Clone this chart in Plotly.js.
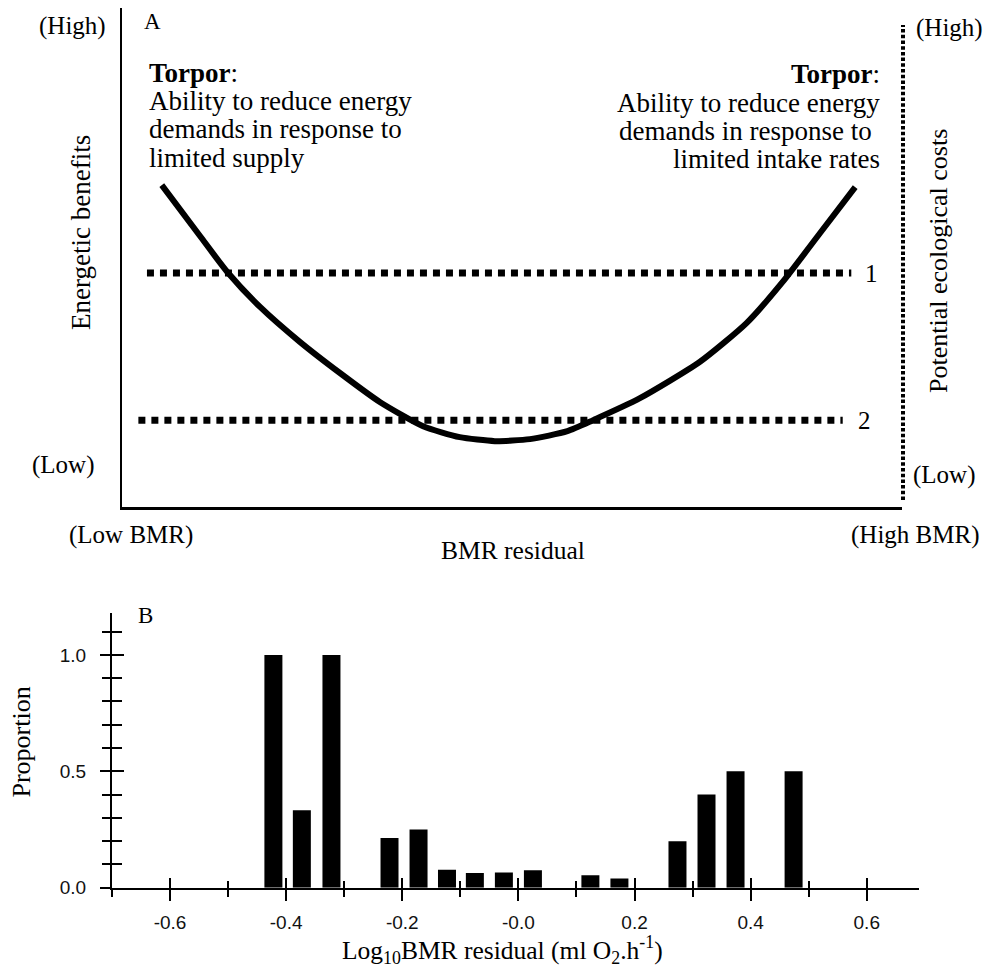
<!DOCTYPE html>
<html>
<head>
<meta charset="utf-8">
<script src="https://cdn.plot.ly/plotly-3.0.1.min.js"></script>
<style>html,body{margin:0;padding:0;background:#fff;}#chart{width:986px;height:980px;}</style>
</head>
<body>
<div id="chart"></div>
<script>
// ---------- Panel A (conceptual, 0-100 scales) ----------
const curveX = [5.1, 10.0, 13.5, 17.7, 22.8, 27.9, 33.1, 38.6, 43.3, 47.8, 52.3, 57.1, 60.4, 66.4, 74.1, 80.1, 84.7, 89.5, 94.0];
const curveY = [64.5, 54.3, 47.1, 40.1, 33.1, 26.9, 21.0, 16.2, 14.0, 13.2, 13.6, 15.2, 17.4, 21.8, 29.1, 36.9, 45.1, 54.9, 64.1];
const level1X = [3.2, 93.5];
const level1Y = [46.9, 46.9];
const level2X = [2.1, 92.4];
const level2Y = [17.4, 17.4];

// ---------- Panel B (histogram of proportions) ----------
const binCenters = [-0.422, -0.373, -0.322, -0.222, -0.172, -0.123, -0.075, -0.025, 0.025, 0.124, 0.174, 0.274, 0.324, 0.374, 0.474];
const proportions = [1.0, 0.333, 1.0, 0.214, 0.25, 0.077, 0.063, 0.065, 0.075, 0.053, 0.04, 0.2, 0.4, 0.5, 0.5];
const xTickVals = [-0.6, -0.4, -0.2, 0.0, 0.2, 0.4, 0.6];
const xTickText = ['-0.6', '-0.4', '-0.2', '-0.0', '0.2', '0.4', '0.6'];
const yTickVals = [0.0, 0.5, 1.0];
const yTickText = ['0.0', '0.5', '1.0'];

const W = 986, H = 980;
const SERIF = 'Liberation Serif, Times New Roman, serif';
const SANS = 'Liberation Sans, Arial, sans-serif';

function ann(text, x, y, o) {
  o = o || {};
  return {
    text: text, xref: 'paper', yref: 'paper', x: x / W, y: 1 - y / H,
    showarrow: false, xanchor: o.xa || 'left', yanchor: 'middle',
    textangle: o.angle || 0, borderpad: 0,
    font: {family: o.family || SERIF, size: o.size || 25, color: '#000'}
  };
}

const traces = [
  {x: level1X, y: level1Y, xaxis: 'x', yaxis: 'y', mode: 'lines', hoverinfo: 'skip',
   line: {color: '#000', width: 7, dash: '7px,6px'}, showlegend: false},
  {x: level2X, y: level2Y, xaxis: 'x', yaxis: 'y', mode: 'lines', hoverinfo: 'skip',
   line: {color: '#000', width: 7, dash: '7px,6px'}, showlegend: false},
  {x: curveX, y: curveY, xaxis: 'x', yaxis: 'y', mode: 'lines', hoverinfo: 'skip',
   line: {color: '#000', width: 6, shape: 'spline', smoothing: 0.6}, showlegend: false},
  {type: 'bar', x: binCenters, y: proportions, xaxis: 'x2', yaxis: 'y2', width: 0.031,
   marker: {color: '#000', line: {width: 0}}, showlegend: false},
  // helper traces so the overlay axes (ticks crossing the axis lines) are drawn
  {x: [], y: [], xaxis: 'x3', yaxis: 'y2', mode: 'markers', showlegend: false, hoverinfo: 'skip'},
  {x: [], y: [], xaxis: 'x4', yaxis: 'y2', mode: 'markers', showlegend: false, hoverinfo: 'skip'},
  {x: [], y: [], xaxis: 'x2', yaxis: 'y3', mode: 'markers', showlegend: false, hoverinfo: 'skip'},
  {x: [], y: [], xaxis: 'x2', yaxis: 'y4', mode: 'markers', showlegend: false, hoverinfo: 'skip'}
];

const xDomB = [112 / W, 919 / W];
const yDomB = [1 - 887.7 / H, 1 - 613 / H];
const xRangeB = [-0.7, 0.69];
const yRangeB = [0, 1.18];
const hidden = {showline: false, showgrid: false, zeroline: false, showticklabels: false, fixedrange: true, tickcolor: '#000', tickwidth: 2};

const layout = {
  width: W, height: H,
  margin: {l: 0, r: 0, t: 0, b: 0},
  paper_bgcolor: '#fff', plot_bgcolor: 'rgba(0,0,0,0)',
  showlegend: false,
  xaxis: {domain: [122 / W, 902 / W], range: [0, 100], anchor: 'y',
          showline: true, linecolor: '#000', linewidth: 2.5, ticks: '', showticklabels: false,
          showgrid: false, zeroline: false, fixedrange: true},
  yaxis: {domain: [1 - 507 / H, 1 - 8 / H], range: [0, 100], anchor: 'x',
          showline: true, linecolor: '#000', linewidth: 2, ticks: '', showticklabels: false,
          showgrid: false, zeroline: false, fixedrange: true},
  xaxis2: {domain: xDomB, range: xRangeB, anchor: 'y2',
           showline: true, linecolor: '#000', linewidth: 2,
           tickmode: 'array', tickvals: xTickVals, ticktext: xTickText,
           ticks: 'outside', ticklen: 11, tickwidth: 2, tickcolor: '#000',
           ticklabelstandoff: 5,
           minor: {tickmode: 'linear', tick0: -0.7, dtick: 0.1, ticks: 'outside', ticklen: 7, tickwidth: 2, tickcolor: '#000', showgrid: false},
           tickfont: {family: SANS, size: 19, color: '#111'},
           showgrid: false, zeroline: false, fixedrange: true},
  xaxis3: Object.assign({overlaying: 'x2', anchor: 'y2', range: xRangeB, side: 'bottom',
           tickmode: 'array', tickvals: xTickVals, ticks: 'inside', ticklen: 10}, hidden),
  xaxis4: Object.assign({overlaying: 'x2', anchor: 'y2', range: xRangeB, side: 'bottom',
           tickmode: 'linear', tick0: -0.7, dtick: 0.1, ticks: 'inside', ticklen: 7}, hidden),
  yaxis2: {domain: yDomB, range: yRangeB, anchor: 'x2',
           showline: true, linecolor: '#000', linewidth: 2,
           tickmode: 'array', tickvals: yTickVals, ticktext: yTickText,
           ticks: 'outside', ticklen: 10, tickwidth: 2, tickcolor: '#000',
           ticklabelstandoff: 10,
           minor: {tickmode: 'linear', tick0: 0, dtick: 0.1, ticks: 'outside', ticklen: 8, tickwidth: 2, tickcolor: '#000', showgrid: false},
           tickfont: {family: SANS, size: 19, color: '#111'},
           showgrid: false, zeroline: false, fixedrange: true},
  yaxis3: Object.assign({overlaying: 'y2', anchor: 'x2', range: yRangeB, side: 'left',
           tickmode: 'array', tickvals: yTickVals, ticks: 'inside', ticklen: 12}, hidden),
  yaxis4: Object.assign({overlaying: 'y2', anchor: 'x2', range: yRangeB, side: 'left',
           tickmode: 'linear', tick0: 0, dtick: 0.1, ticks: 'inside', ticklen: 10}, hidden),
  shapes: [
    {type: 'line', xref: 'paper', yref: 'paper', x0: 903 / W, x1: 903 / W, y0: 1 - 500 / H, y1: 1 - 25 / H,
     line: {color: '#000', width: 4, dash: '3.5px,2.2px'}}
  ],
  annotations: [
    ann('(High)', 107, 26, {xa: 'right'}),
    ann('A', 143, 21, {size: 23}),
    ann('<b>Torpor</b>:', 148, 72.9, {size: 27}),
    ann('Ability to reduce energy', 148, 100.9, {size: 27}),
    ann('demands in response to', 148, 128.9, {size: 27}),
    ann('limited supply', 148, 157.9, {size: 27}),
    ann('<b>Torpor</b>:', 881, 73.9, {xa: 'right', size: 27}),
    ann('Ability to reduce energy', 881, 102.6, {xa: 'right', size: 27}),
    ann('demands in response to', 873, 130.9, {xa: 'right', size: 27}),
    ann('limited intake rates', 881, 158.9, {xa: 'right', size: 27}),
    ann('(High)', 915, 28.3),
    ann('Energetic benefits', 81, 233, {xa: 'center', angle: -90, size: 27}),
    ann('Potential ecological costs', 938, 261, {xa: 'center', angle: -90, size: 26}),
    ann('1', 871, 273, {xa: 'center'}),
    ann('2', 864, 420, {xa: 'center'}),
    ann('(Low)', 95, 465, {xa: 'right'}),
    ann('(Low)', 911.7, 475),
    ann('(Low BMR)', 68, 535),
    ann('(High BMR)', 980, 535, {xa: 'right'}),
    ann('BMR residual', 513, 550, {xa: 'center', size: 25.5}),
    ann('B', 137, 615, {size: 23}),
    ann('Proportion', 20.5, 742, {xa: 'center', angle: -90, size: 26}),
    ann('Log<sub>10</sub>BMR residual (ml O<sub>2</sub>.h<sup>-1</sup>)', 502.5, 950, {xa: 'center', size: 25.5})
  ]
};

Plotly.newPlot('chart', traces, layout, {displayModeBar: false, staticPlot: true});
</script>
</body>
</html>
